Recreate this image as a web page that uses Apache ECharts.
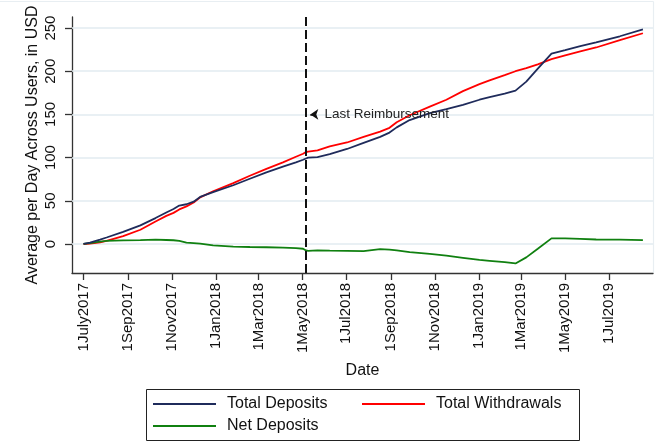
<!DOCTYPE html>
<html>
<head>
<meta charset="utf-8">
<script src="https://cdn.jsdelivr.net/npm/echarts@6/dist/echarts.min.js"></script>
<style>
  html, body { margin: 0; padding: 0; background: #fff; }
  #chart { width: 658px; height: 442px; }
</style>
</head>
<body>
<div id="chart"></div>
<script>
// Daily averages per user (USD), sampled dates
const dates = [
  '2017-07-01','2017-07-10','2017-07-24','2017-08-02','2017-08-25','2017-09-18','2017-10-09',
  '2017-10-24','2017-11-03','2017-11-11','2017-11-21','2017-12-01','2017-12-10','2017-12-28',
  '2018-01-25','2018-02-17','2018-03-12','2018-04-04','2018-04-22','2018-05-02','2018-05-06',
  '2018-05-09','2018-05-22','2018-06-08','2018-07-02','2018-07-25','2018-08-17','2018-08-30',
  '2018-09-09','2018-09-27','2018-10-25','2018-11-17','2018-12-10','2019-01-02','2019-01-16',
  '2019-02-06','2019-02-21','2019-03-08','2019-03-24','2019-04-12','2019-05-01','2019-05-22',
  '2019-06-13','2019-07-16','2019-08-17'
];
const totalDeposits = [
  0, 1.5, 5, 7.5, 14, 21.5, 30,
  36.5, 40.5, 44.5, 46, 49, 54.5, 60,
  68, 75.5, 83, 89.5, 94.5, 97.5, 99,
  100, 100.5, 104, 110, 117, 124, 129,
  135, 143.5, 151.5, 156, 161, 167, 170,
  174, 177.5, 188, 203, 220.5, 224.5, 229,
  233.5, 240.5, 248.5
];
const totalWithdrawals = [
  0, 0.5, 2, 3.5, 9, 16.5, 26,
  32.5, 36, 40, 43.5, 48, 54, 61,
  70.5, 79, 87, 94.5, 101, 104.5, 106.5,
  107, 108.5, 113, 117.5, 124, 130, 134.5,
  141, 149, 159, 167, 177, 185, 189.5,
  195.5, 200, 203.5, 208, 214, 218.5, 223,
  227.5, 236, 244
];
const netDeposits = [
  0, 1, 2.8, 3.5, 4.2, 4.5, 5,
  4.6, 4.3, 3.5, 1.5, 1, 0.5, -1.5,
  -3, -3.5, -3.8, -4.3, -4.8, -5.5, -7.5,
  -8, -7.5, -7.8, -8, -8.3, -6, -6.5,
  -7.5, -9.5, -11.5, -13.5, -16, -18.5, -19.5,
  -21, -22.5, -15.5, -5.5, 6.5, 6.5, 6,
  5.2, 5, 4.5
];

// Axis ticks
const tickDates = [
  '2017-07-01','2017-09-01','2017-11-01','2018-01-01','2018-03-01','2018-05-01','2018-07-01',
  '2018-09-01','2018-11-01','2019-01-01','2019-03-01','2019-05-01','2019-07-01'
];
const tickLabels = [
  '1July2017','1Sep2017','1Nov2017','1Jan2018','1Mar2018','1May2018','1Jul2018',
  '1Sep2018','1Nov2018','1Jan2019','1Mar2019','1May2019','1Jul2019'
];
const yTicks = [0, 50, 100, 150, 200, 250];

// Event marker
const reimbursementDate = '2018-05-06';
const reimbursementLabel = 'Last Reimbursement';
const reimbursementLabelY = 150;

const FONT = '"Liberation Sans", Arial, Helvetica, sans-serif';
const ORIGIN = Date.UTC(2017, 6, 1);
function dayNum(s) {
  const p = s.split('-').map(Number);
  return Math.round((Date.UTC(p[0], p[1] - 1, p[2]) - ORIGIN) / 86400000);
}
const xTickValues = tickDates.map(dayNum);
const labelByDay = {};
xTickValues.forEach((d, i) => { labelByDay[d] = tickLabels[i]; });

const xDays = dates.map(dayNum);
const pairs = arr => arr.map((v, i) => [xDays[i], v]);
const eventDay = dayNum(reimbursementDate);

const chart = echarts.init(document.getElementById('chart'), null, { renderer: 'canvas' });

const legendBase = {
  orient: 'horizontal',
  padding: 0,
  icon: 'rect',
  itemWidth: 63,
  itemHeight: 2,
  selectedMode: false,
  textStyle: { fontFamily: FONT, fontSize: 16, color: '#111', padding: [0, 0, 0, 6] }
};

chart.setOption({
  animation: false,
  backgroundColor: '#fff',
  grid: { left: 72, right: 5, top: 17, bottom: 169, containLabel: false },
  xAxis: {
    type: 'value',
    min: dayNum('2017-06-15'),
    max: dayNum('2019-08-31'),
    name: 'Date',
    nameLocation: 'middle',
    nameGap: 90,
    nameTextStyle: { fontFamily: FONT, fontSize: 16, color: '#111' },
    axisLine: { show: true, onZero: false, lineStyle: { color: '#333', width: 1.3 } },
    axisTick: { show: true, length: 7, customValues: xTickValues, lineStyle: { color: '#333', width: 1.3 } },
    axisLabel: {
      customValues: xTickValues,
      rotate: 90,
      margin: 10,
      fontFamily: FONT,
      fontSize: 15,
      color: '#111',
      formatter: v => labelByDay[v] || ''
    },
    splitLine: { show: false }
  },
  yAxis: {
    type: 'value',
    min: -33.6,
    max: 262.8,
    name: 'Average per Day Across Users, in USD',
    nameLocation: 'middle',
    nameGap: 31,
    nameMoveOverlap: false,
    nameRotate: 90,
    nameTextStyle: { fontFamily: FONT, fontSize: 16, color: '#111' },
    axisLine: { show: true, onZero: false, lineStyle: { color: '#333', width: 1.3 } },
    axisTick: { show: true, length: 7, customValues: yTicks, lineStyle: { color: '#333', width: 1.3 } },
    axisLabel: {
      customValues: yTicks,
      rotate: 90,
      margin: 14,
      fontFamily: FONT,
      fontSize: 15,
      color: '#111'
    },
    splitLine: { show: false }
  },
  legend: [
    Object.assign({}, legendBase, { left: 153, top: 396, data: ['Total Deposits'] }),
    Object.assign({}, legendBase, { left: 362, top: 396, data: ['Total Withdrawals'] }),
    Object.assign({}, legendBase, { left: 153, top: 418, data: ['Net Deposits'] })
  ],
  graphic: [
    // legend frame
    { type: 'rect', shape: { x: 146.5, y: 389.5, width: 433, height: 51 },
      style: { fill: 'none', stroke: '#222', lineWidth: 1 }, silent: true },
    // light outer frame of the plot region
    { type: 'line', shape: { x1: 0, y1: 1.5, x2: 653.5, y2: 1.5 },
      style: { stroke: '#e8eef2', lineWidth: 1.2 }, silent: true },
    { type: 'line', shape: { x1: 653.5, y1: 1.5, x2: 653.5, y2: 273 },
      style: { stroke: '#e8eef2', lineWidth: 1.2 }, silent: true }
  ],
  series: [
    {
      name: 'Total Withdrawals',
      type: 'line',
      data: pairs(totalWithdrawals),
      showSymbol: false,
      color: '#ff0000',
      lineStyle: { width: 1.8, color: '#ff0000' },
      z: 2,
      markLine: {
        z: 1,
        silent: true,
        symbol: ['none', 'none'],
        label: { show: false },
        lineStyle: { color: '#e2ebf0', width: 1.5, type: 'solid' },
        data: yTicks.map(v => ({ yAxis: v }))
      }
    },
    {
      name: 'Total Deposits',
      type: 'line',
      data: pairs(totalDeposits),
      showSymbol: false,
      color: '#1f2b5b',
      lineStyle: { width: 1.8, color: '#1f2b5b' },
      z: 3
    },
    {
      name: 'Net Deposits',
      type: 'line',
      data: pairs(netDeposits),
      showSymbol: false,
      color: '#108010',
      lineStyle: { width: 1.8, color: '#108010' },
      z: 2,
      markLine: {
        silent: true,
        symbol: ['none', 'none'],
        label: { show: false },
        data: [
          { xAxis: eventDay, lineStyle: { color: '#111', width: 2, type: [9, 4] } },
          [
            { coord: [eventDay + 12, reimbursementLabelY], symbol: 'none',
              lineStyle: { color: '#111', width: 1.5, type: 'solid' } },
            { coord: [eventDay + 6, reimbursementLabelY], symbol: 'arrow', symbolSize: [8, 8] }
          ]
        ]
      },
      markPoint: {
        silent: true,
        symbol: 'circle',
        symbolSize: 1,
        itemStyle: { color: 'rgba(0,0,0,0)' },
        label: {
          show: true,
          position: 'right',
          distance: 0,
          fontFamily: FONT,
          fontSize: 13.5,
          color: '#222',
          formatter: reimbursementLabel
        },
        data: [{ coord: [eventDay + 25, reimbursementLabelY] }]
      }
    }
  ]
});
</script>
</body>
</html>
